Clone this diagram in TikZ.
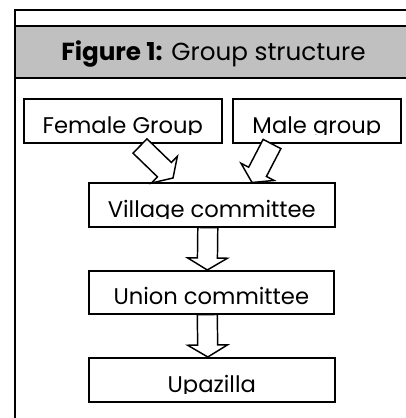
\documentclass[tikz,border=0pt]{standalone}
\usepackage{fontspec}
\setmainfont{Poppins}
\usetikzlibrary{calc}
\definecolor{bandgray}{RGB}{192,192,192}
\tikzset{
  frameline/.style={draw=black, line width=1.4pt},
  box/.style={draw=black, line width=1.2pt, inner sep=0pt, anchor=north west},
  lbl/.style={anchor=base, inner sep=0pt, font=\fontsize{17pt}{20pt}\selectfont},
  blk/.style={draw=black, line width=1.1pt, fill=white, line join=miter},
}
\newcommand{\blkarrow}[5]{%
  \coordinate (hb) at ($(#2)!#5!(#1)$);
  \draw[blk] ($(#1)!#3!90:(#2)$) -- ($(hb)!#3!90:(#2)$) -- ($(hb)!#4!90:(#2)$) -- (#2)
    -- ($(hb)!#4!-90:(#2)$) -- ($(hb)!#3!-90:(#2)$) -- ($(#1)!#3!-90:(#2)$) -- cycle;}
\newcommand{\boxlabel}[3]{%
  \begin{scope}
    \clip (#1.north west) rectangle ([yshift=6.6pt]#1.south east);
    \node[lbl] (#1-t) at ([yshift=7.5pt]#1.south) {#2};
  \end{scope}}
\begin{document}
\begin{tikzpicture}[x=0.75pt,y=-0.75pt]
\useasboundingbox (0,0) rectangle (406,418);
% frame and title band
\fill[bandgray] (15,26) rectangle (406,78);
\draw[frameline] (15,26) -- (406,26);
\draw[frameline] (15,78) -- (406,78);
\draw[frameline] (15,418) -- (15,10) -- (406,10);
\node[anchor=base, inner sep=0pt, font=\fontsize{18.5pt}{22pt}\selectfont] (title) at (213.5,60.7) {\textbf{Figure 1:} Group structure};
% boxes
\node[box, minimum width=148.5pt, minimum height=33pt] (female) at (23,98) {};
\node[box, minimum width=126pt, minimum height=33pt] (male) at (232,98) {};
\node[box, minimum width=184.5pt, minimum height=33pt] (village) at (88,182) {};
\node[box, minimum width=183.75pt, minimum height=32.25pt] (union) at (88,270) {};
\node[box, minimum width=184.5pt, minimum height=33pt] (upazilla) at (88,357) {};
\boxlabel{female}{Female Group}{}
\boxlabel{male}{Male group}{}
\boxlabel{village}{Village committee}{}
\boxlabel{union}{Union committee}{}
\boxlabel{upazilla}{Upazilla}{}
% arrows
\coordinate (fa) at (140,146);
\coordinate (fb) at (173,178);
\coordinate (ma) at (272,144);
\coordinate (mb) at (252,182.5);
\blkarrow{fa}{fb}{7.5pt}{14pt}{9pt}
\blkarrow{ma}{mb}{7.5pt}{14pt}{9pt}
\coordinate (v1) at ($(village.south)+(-4,0)$);
\coordinate (u1) at ($(union.north)+(-4,0)$);
\coordinate (u2) at ($(union.south)+(-4,0)$);
\coordinate (z1) at ($(upazilla.north)+(-4,0)$);
\blkarrow{v1}{u1}{7.5pt}{15pt}{9pt}
\blkarrow{u2}{z1}{7.5pt}{15pt}{9pt}
\end{tikzpicture}
\end{document}
